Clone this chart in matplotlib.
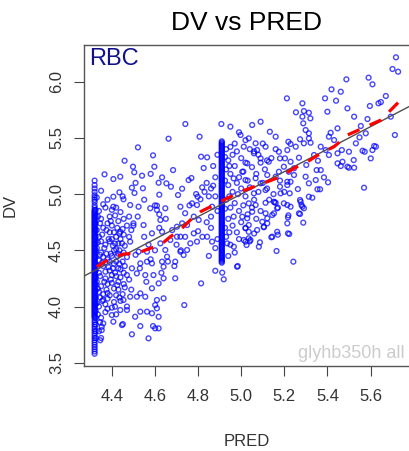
import numpy as np
import matplotlib
matplotlib.use("Agg")
import matplotlib.pyplot as plt

plt.rcParams["font.family"] = ["Liberation Sans", "DejaVu Sans"]

# two PRED values that carry a whole column of DV values
col1_pred = 4.32
col1_dv = [5.12, 5.08, 5.05, 5.02, 4.99, 4.97, 4.95, 4.93, 4.90, 4.88, 4.86, 4.85, 4.84,
           4.83, 4.82, 4.81, 4.80, 4.79, 4.78, 4.77, 4.76, 4.75, 4.74, 4.73, 4.72, 4.71,
           4.70, 4.69, 4.68, 4.67, 4.66, 4.65, 4.64, 4.63, 4.62, 4.61, 4.60, 4.59, 4.58,
           4.57, 4.56, 4.55, 4.54, 4.53, 4.52, 4.51, 4.50, 4.49, 4.48, 4.47, 4.46, 4.45,
           4.44, 4.43, 4.42, 4.41, 4.40, 4.39, 4.38, 4.37, 4.36, 4.35, 4.34, 4.33, 4.32,
           4.31, 4.30, 4.29, 4.28, 4.27, 4.26, 4.25, 4.24, 4.23, 4.22, 4.21, 4.20, 4.19,
           4.18, 4.17, 4.16, 4.15, 4.14, 4.13, 4.12, 4.11, 4.10, 4.09, 4.08, 4.07, 4.06,
           4.05, 4.04, 4.03, 4.02, 4.01, 4.00, 3.99, 3.98, 3.97, 3.96, 3.95, 3.94, 3.93,
           3.92, 3.91, 3.90, 3.88, 3.86, 3.84, 3.82, 3.80, 3.78, 3.76, 3.74, 3.72, 3.70,
           3.68, 3.66, 3.64, 3.62, 3.60, 3.58]
col1b_pred = 4.325
col1b_dv = [4.86, 4.80, 4.74, 4.68, 4.62, 4.56, 4.50, 4.44, 4.38, 4.32, 4.26, 4.20,
            4.14, 4.08, 4.02, 3.96, 3.90, 3.84, 3.78, 3.72]
col2_pred = 4.91
col2_dv = [5.47, 5.46, 5.45, 5.44, 5.43, 5.42, 5.41, 5.40, 5.39, 5.38, 5.37, 5.36, 5.35,
           5.34, 5.33, 5.32, 5.31, 5.30, 5.29, 5.28, 5.27, 5.26, 5.25, 5.24, 5.23, 5.22,
           5.21, 5.20, 5.19, 5.18, 5.17, 5.16, 5.15, 5.14, 5.13, 5.12, 5.11, 5.10, 5.09,
           5.08, 5.07, 5.06, 5.05, 5.04, 5.03, 5.02, 5.01, 5.00, 4.99, 4.98, 4.97, 4.96,
           4.95, 4.94, 4.93, 4.92, 4.91, 4.90, 4.89, 4.88, 4.87, 4.86, 4.85, 4.84, 4.83,
           4.82, 4.81, 4.80, 4.79, 4.78, 4.77, 4.76, 4.75, 4.74, 4.73, 4.72, 4.71, 4.70,
           4.69, 4.68, 4.67, 4.66, 4.65, 4.64, 4.63, 4.62, 4.61, 4.60, 4.59, 4.58, 4.57,
           4.56, 4.55, 4.54, 4.53, 4.52, 4.51, 4.50, 4.49, 4.48, 4.47, 4.46, 4.45, 4.44,
           4.43, 4.42, 4.41, 4.40, 4.39]

# (PRED, DV) next to the first column
pts_near_col1 = [
    (4.34, 4.85), (4.35, 4.78), (4.36, 4.70), (4.34, 4.62), (4.37, 4.55), (4.35, 4.48),
    (4.38, 4.42), (4.36, 4.36), (4.34, 4.30), (4.37, 4.25), (4.35, 4.18), (4.38, 4.12),
    (4.36, 4.06), (4.34, 4.00), (4.37, 3.95), (4.35, 3.90), (4.36, 3.85), (4.34, 3.78),
    (4.35, 3.72), (4.39, 4.80), (4.40, 4.72), (4.41, 4.66), (4.39, 4.58), (4.42, 4.51),
    (4.40, 4.45), (4.41, 4.38), (4.39, 4.32), (4.42, 4.27), (4.40, 4.21), (4.43, 4.15),
    (4.39, 4.10), (4.41, 4.04), (4.38, 3.98), (4.42, 3.93), (4.44, 4.84), (4.43, 4.76),
    (4.45, 4.69), (4.44, 4.60), (4.46, 4.54), (4.43, 4.47), (4.45, 4.40), (4.44, 4.33),
    (4.47, 4.28), (4.43, 4.22), (4.46, 4.17), (4.45, 4.11), (4.44, 4.05), (4.47, 4.00),
    (4.36, 4.91), (4.38, 4.95), (4.33, 4.97), (4.35, 5.03), (4.37, 4.88), (4.40, 4.86),
    (4.42, 4.88), (4.33, 4.68), (4.33, 4.52), (4.34, 4.41), (4.33, 4.22), (4.34, 4.13),
    (4.33, 4.03), (4.35, 4.58), (4.36, 4.44), (4.37, 4.31), (4.38, 4.20), (4.36, 4.11),
    (4.37, 4.02), (4.39, 4.66), (4.38, 4.74), (4.40, 4.60), (4.41, 4.50), (4.39, 4.40),
    (4.40, 4.28), (4.41, 4.16), (4.38, 4.07), (4.40, 3.99), (4.42, 4.62), (4.43, 4.56),
    (4.42, 4.40), (4.43, 4.34), (4.44, 4.26), (4.42, 4.10), (4.46, 4.36), (4.47, 4.44),
    (4.48, 4.62), (4.47, 4.72), (4.48, 4.80), (4.49, 4.68), (4.48, 4.24), (4.49, 4.15),
    (4.407, 3.865), (4.447, 3.835), (4.346, 3.70), (4.353, 3.79), (4.353, 3.82),
    (4.400, 3.924), (4.415, 3.998), (4.439, 3.969), (4.470, 3.969), (4.451, 3.844),
    (4.335, 4.80), (4.345, 4.74), (4.335, 4.57), (4.345, 4.46), (4.335, 4.36),
    (4.345, 4.27), (4.335, 4.16), (4.345, 4.08), (4.335, 3.93), (4.345, 3.86),
    (4.355, 4.64), (4.365, 4.52), (4.355, 4.39), (4.365, 4.22), (4.355, 4.05),
    (4.375, 4.68), (4.385, 4.60), (4.375, 4.47), (4.385, 4.35), (4.375, 4.15),
    (4.395, 4.76), (4.405, 4.54), (4.395, 4.47), (4.405, 4.34), (4.395, 4.24),
    (4.415, 4.81), (4.425, 4.70), (4.415, 4.56), (4.425, 4.45), (4.415, 4.30),
    (4.425, 4.19), (4.435, 4.65), (4.435, 4.50), (4.435, 4.38), (4.435, 4.08),
    (4.455, 4.78), (4.455, 4.64), (4.455, 4.48), (4.455, 4.30), (4.455, 4.20),
]

# (PRED, DV) between the two columns
pts_middle = [
    (4.741, 5.624), (4.663, 5.493), (4.807, 5.511), (4.521, 5.416), (4.591, 5.345),
    (4.814, 5.333), (4.842, 5.327), (4.459, 5.297), (4.597, 5.244), (4.684, 5.214),
    (4.826, 5.232), (4.498, 5.244), (4.504, 5.194), (4.366, 5.176), (4.407, 5.134),
    (4.439, 5.155), (4.540, 5.164), (4.633, 5.149), (4.756, 5.125), (4.769, 5.143),
    (4.617, 5.101), (4.653, 5.096), (4.674, 5.066), (4.726, 5.048), (4.819, 5.060),
    (4.870, 5.075), (4.493, 5.057), (4.544, 5.052), (4.435, 5.016), (4.407, 4.977),
    (4.454, 4.954), (4.505, 5.010), (4.620, 4.995), (4.707, 4.992), (4.791, 5.001),
    (4.798, 4.977), (4.811, 4.954), (4.485, 4.903), (4.524, 4.888), (4.578, 4.874),
    (4.609, 4.897), (4.772, 4.918), (4.865, 4.888), (4.407, 4.888), (4.609, 4.859),
    (4.648, 4.874), (4.718, 4.888), (4.795, 4.903), (4.500, 4.740), (4.547, 4.725),
    (4.586, 4.651), (4.633, 4.665), (4.625, 4.770), (4.702, 4.710), (4.726, 4.740),
    (4.749, 4.725), (4.803, 4.770), (4.780, 4.651), (4.718, 4.621), (4.764, 4.562),
    (4.795, 4.577), (4.842, 4.621), (4.865, 4.577), (4.671, 4.592), (4.702, 4.621),
    (4.625, 4.562), (4.648, 4.503), (4.563, 4.488), (4.524, 4.488), (4.485, 4.577),
    (4.439, 4.665), (4.447, 4.562), (4.563, 4.399), (4.586, 4.384), (4.532, 4.384),
    (4.633, 4.399), (4.640, 4.354), (4.694, 4.399), (4.733, 4.458), (4.749, 4.503),
    (4.718, 4.488), (4.656, 4.443), (4.593, 4.280), (4.555, 4.280), (4.516, 4.295),
    (4.493, 4.340), (4.694, 4.251), (4.586, 4.162), (4.617, 4.206), (4.640, 4.251),
    (4.532, 4.117), (4.516, 4.087), (4.555, 4.087), (4.609, 4.058), (4.601, 4.013),
    (4.640, 4.073), (4.609, 3.984), (4.563, 3.954), (4.508, 3.909), (4.532, 3.954),
    (4.586, 3.940), (4.617, 3.909), (4.485, 4.087), (4.454, 4.058), (4.532, 3.826),
    (4.591, 3.826), (4.601, 3.806), (4.617, 3.806), (4.493, 3.753), (4.570, 3.717),
    (4.736, 4.013), (4.880, 4.318), (4.912, 4.301), (4.919, 4.242), (4.814, 4.206),
    (4.981, 4.354), (4.966, 4.532), (4.935, 4.562),
    (4.50, 4.72), (4.52, 4.80), (4.55, 4.62), (4.57, 4.55), (4.60, 4.50), (4.62, 4.70),
    (4.65, 4.78), (4.68, 4.68), (4.70, 4.55), (4.72, 4.50), (4.74, 4.83), (4.76, 4.90),
    (4.78, 4.80), (4.80, 4.67), (4.82, 4.62), (4.84, 4.75), (4.86, 4.70), (4.88, 4.98),
    (4.86, 5.05), (4.89, 4.60), (4.88, 4.52), (4.85, 4.45), (4.66, 4.40), (4.58, 4.42),
    (4.53, 4.34), (4.51, 4.46), (4.56, 4.22), (4.63, 4.30), (4.69, 4.36), (4.74, 4.62),
    (4.60, 4.90), (4.55, 4.95), (4.51, 5.10), (4.58, 5.18), (4.62, 4.82), (4.45, 4.98),
    (4.85, 4.98), (4.88, 5.15), (4.87, 5.25), (4.84, 5.10), (4.89, 4.85), (4.86, 4.80),
    (4.83, 5.02), (4.89, 5.35), (4.908, 5.624),
]

# (PRED, DV) right of the second column
pts_right = [
    (4.93, 5.40), (4.95, 5.42), (4.94, 5.30), (4.96, 5.35), (4.98, 5.38), (5.00, 5.32),
    (5.02, 5.28), (4.93, 5.22), (4.95, 5.18), (4.97, 5.25), (4.99, 5.15), (5.01, 5.20),
    (5.03, 5.12), (5.05, 5.24), (5.07, 5.18), (5.09, 5.28), (5.11, 5.22), (4.94, 5.08),
    (4.96, 5.02), (4.98, 5.10), (5.00, 5.05), (5.02, 4.98), (5.04, 5.06), (5.06, 4.95),
    (5.08, 5.02), (5.10, 5.10), (5.12, 5.05), (4.93, 4.95), (4.95, 4.88), (4.97, 4.92),
    (4.99, 4.85), (5.01, 4.90), (5.03, 4.82), (5.05, 4.88), (5.07, 4.78), (5.09, 4.85),
    (4.94, 4.78), (4.96, 4.72), (4.98, 4.66), (5.00, 4.75), (5.02, 4.70), (4.93, 4.62),
    (4.95, 4.55), (4.97, 4.48), (4.99, 4.60), (4.94, 4.45), (5.04, 4.58), (5.06, 4.65),
    (5.13, 4.95), (5.15, 5.00), (5.17, 4.88), (5.14, 5.32), (5.16, 5.40), (5.10, 5.45),
    (5.06, 5.38), (4.97, 5.45), (5.02, 5.48), (4.99, 5.55), (4.95, 5.60), (5.04, 5.40),
    (5.08, 5.35), (5.12, 5.30), (5.18, 5.12), (5.20, 5.02), (5.020, 4.577),
    (4.925, 5.33), (4.925, 5.12), (4.925, 4.87), (4.925, 4.70), (4.945, 5.25),
    (4.945, 4.98), (4.945, 4.66), (4.965, 5.14), (4.965, 4.80), (4.985, 5.00),
    (5.718, 6.217), (5.702, 6.113), (5.728, 6.089), (5.591, 6.036), (5.609, 5.977),
    (5.488, 6.021), (5.419, 5.932), (5.462, 5.911), (5.671, 5.873), (5.648, 5.819),
    (5.637, 5.808), (5.597, 5.784), (5.493, 5.763), (5.440, 5.831), (5.389, 5.852),
    (5.212, 5.852), (5.284, 5.808), (5.291, 5.739), (5.254, 5.728), (5.314, 5.724),
    (5.400, 5.733), (5.090, 5.644), (5.051, 5.615), (5.284, 5.689), (5.321, 5.674),
    (5.288, 5.630), (5.299, 5.570), (5.314, 5.541), (5.524, 5.689), (5.555, 5.606),
    (5.447, 5.585), (5.415, 5.546), (5.407, 5.511), (5.133, 5.555), (5.160, 5.511),
    (5.219, 5.466), (5.273, 5.488), (5.314, 5.496), (5.322, 5.457), (5.253, 5.422),
    (5.291, 5.452), (5.229, 5.446), (5.713, 5.526), (5.549, 5.505), (5.532, 5.452),
    (5.625, 5.422), (5.609, 5.392), (5.467, 5.392), (5.500, 5.377), (5.563, 5.386),
    (5.573, 5.377), (5.601, 5.318), (5.392, 5.392), (5.407, 5.348), (5.369, 5.422),
    (5.338, 5.348), (5.356, 5.297), (5.302, 5.259), (5.268, 5.324), (5.214, 5.392),
    (5.175, 5.377), (5.180, 5.318), (5.203, 5.318), (5.245, 5.230), (5.447, 5.274),
    (5.462, 5.250), (5.500, 5.235), (5.524, 5.235), (5.350, 5.214), (5.384, 5.149),
    (5.346, 5.125), (5.299, 5.155), (5.314, 5.096), (5.403, 5.105), (5.366, 5.043),
    (5.314, 4.977), (5.330, 4.968), (5.273, 4.948), (5.280, 4.903), (5.225, 5.007),
    (5.214, 5.110), (5.229, 5.110), (5.180, 5.066), (5.183, 5.007), (5.263, 5.045),
    (5.152, 4.932), (5.113, 4.923), (5.198, 4.918), (5.570, 5.057), (5.221, 5.199),
    (5.175, 5.199), (5.160, 5.155), (5.198, 5.244), (5.128, 5.288), (5.090, 5.318),
    (5.059, 5.363), (5.113, 5.422), (5.074, 5.392), (5.121, 5.170), (5.090, 5.096),
    (5.067, 5.141), (5.113, 5.036), (5.059, 5.007), (5.020, 5.125), (5.005, 5.199),
    (5.028, 5.274), (5.012, 5.422), (5.067, 5.452), (5.035, 5.496), (4.997, 5.526),
    (5.035, 4.918), (5.067, 4.903), (5.160, 4.923), (5.214, 4.903), (5.276, 4.932),
    (5.284, 4.888), (5.152, 4.829), (5.144, 4.814), (5.113, 4.829), (5.098, 4.754),
    (5.121, 4.740), (5.105, 4.705), (5.051, 4.843), (5.005, 4.799), (5.028, 4.785),
    (5.035, 4.725), (5.020, 4.696), (5.035, 4.665), (5.012, 4.592), (5.035, 4.607),
    (5.087, 4.571), (5.140, 4.616), (5.170, 4.639), (5.223, 4.645), (5.164, 4.494),
    (5.242, 4.399), (5.288, 4.746), (5.273, 4.823), (5.219, 4.811), (5.229, 4.888),
    (5.586, 5.668), (5.694, 5.689), (5.354, 5.043), (5.369, 5.214), (5.493, 5.244),
    (5.470, 5.288), (5.522, 5.303), (5.617, 5.428), (5.578, 5.541), (5.447, 5.363),
    (5.431, 5.481), (5.229, 5.288), (5.245, 5.170), (5.214, 5.081), (5.291, 4.874),
    (5.268, 4.829), (5.217, 4.793), (5.214, 4.740), (5.167, 4.874), (5.155, 4.927),
    (5.121, 4.785), (5.105, 4.710), (5.144, 4.621), (5.167, 4.665), (5.217, 4.651),
    (5.074, 4.681), (5.043, 4.592), (5.082, 4.532), (5.025, 4.547), (4.984, 4.360),
]

# red dashed smooth
smooth_pred = [4.330, 4.392, 4.454, 4.516, 4.578, 4.625, 4.671, 4.718, 4.764, 4.811,
               4.873, 4.935, 4.997, 5.059, 5.121, 5.183, 5.245, 5.307, 5.369, 5.431,
               5.493, 5.648, 5.732]
smooth_dv = [4.354, 4.429, 4.467, 4.473, 4.518, 4.547, 4.621, 4.681, 4.770, 4.843,
             4.903, 4.963, 5.021, 5.066, 5.110, 5.155, 5.230, 5.288, 5.363, 5.422,
             5.526, 5.659, 5.822]

xticks = [4.4, 4.6, 4.8, 5.0, 5.2, 5.4, 5.6]
yticks = [3.5, 4.0, 4.5, 5.0, 5.5, 6.0]

others = pts_near_col1 + pts_middle + pts_right
pred = np.concatenate([np.full(len(col1_dv), col1_pred), np.full(len(col1b_dv), col1b_pred),
                       np.full(len(col2_dv), col2_pred), [p[0] for p in others]])
dv = np.concatenate([col1_dv, col1b_dv, col2_dv, [p[1] for p in others]])

fig = plt.figure(figsize=(4.1, 4.51), dpi=100)
ax = fig.add_axes([0.205, 0.1885, 0.797, 0.7128])

ax.scatter(pred, dv, s=12, facecolors="none", edgecolors="#0000ff",
           linewidths=1.0, alpha=0.72, zorder=2)
ax.plot([4.0, 6.0], [4.0, 6.0], color="#505050", lw=1.0, zorder=3)
ax.plot(smooth_pred, smooth_dv, color="red", lw=2.3, dashes=(4, 3.5), zorder=4)

ax.set_xlim(4.271, 5.787)
ax.set_ylim(3.471, 6.331)
ax.set_xticks(xticks)
ax.set_xticklabels([f"{t:.1f}" for t in xticks])
ax.set_yticks(yticks)
ax.set_yticklabels([f"{t:.1f}" for t in yticks], rotation=90, va="center")
ax.tick_params(length=7.5, width=0.8, color="#444444", labelcolor="#333333",
               labelsize=12)
ax.tick_params(axis="x", pad=9)
ax.tick_params(axis="y", pad=7)
for s in ax.spines.values():
    s.set_color("#555555")
    s.set_linewidth(1.0)

fig.text(247 / 410, 1 - 23 / 451, "DV vs PRED", fontsize=19, ha="center", va="center")
fig.text(10 / 410, 1 - 205 / 451, "DV", fontsize=12, rotation=90, ha="center",
         va="center", color="#333333")
fig.text(247 / 410, 1 - 441 / 451, "PRED", fontsize=12, ha="center", va="center",
         color="#333333")
fig.text(89 / 410, 1 - 48 / 451, "RBC", fontsize=17, va="top", color="#10108f")
fig.text(405 / 410, 1 - 358 / 451, "glyhb350h all", fontsize=13, ha="right",
         va="baseline", color="#cccccc")

plt.savefig("out.png", dpi=100)
plt.close()
